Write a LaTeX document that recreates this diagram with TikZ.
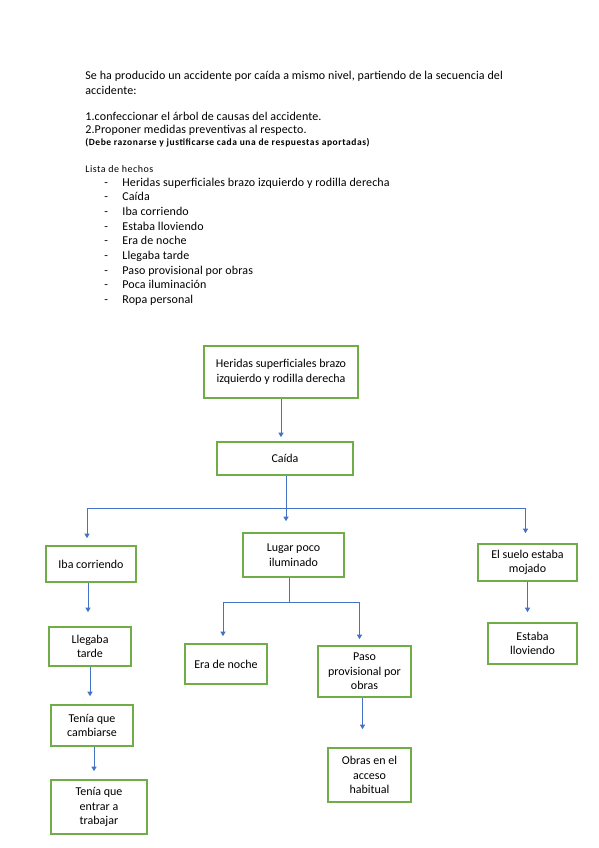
\documentclass[tikz,border=0pt]{standalone}
\usepackage{fontspec}
\setmainfont{Carlito}
\usetikzlibrary{arrows.meta,positioning,calc}
\definecolor{cajaverde}{HTML}{70AD47}
\definecolor{flechaazul}{HTML}{4472C4}
\tikzset{every picture/.style={line width=0.75pt}}

\begin{document}
\begin{tikzpicture}[x=1pt,y=-1pt,
    caja/.style={draw=cajaverde,line width=1.6pt,fill=white,align=center,inner sep=2pt,
        font=\fontsize{12}{14.5}\selectfont},
    flecha/.style={draw=flechaazul,line width=0.9pt,-{Triangle[width=5pt,length=4.5pt]}},
    linea/.style={draw=flechaazul,line width=0.9pt},
    texto/.style={anchor=base west,inner sep=0pt,font=\fontsize{12}{14}\selectfont\addfontfeature{LetterSpace=1}},
    chico/.style={anchor=base west,inner sep=0pt,font=\fontsize{10}{12}\selectfont\addfontfeature{LetterSpace=5}}]
    \useasboundingbox (0,0) rectangle (599,848);

    % Enunciado
    \node[texto] (enun1) at (85,80) {Se ha producido un accidente por caída a mismo nivel, partiendo de la secuencia del};
    \node[texto] (enun2) at (85,94.5) {accidente:};
    \node[texto] (punto1) at (85,120.5) {1.confeccionar el árbol de causas del accidente.};
    \node[texto] (punto2) at (85,133.5) {2.Proponer medidas preventivas al respecto.};
    \node[chico,font=\fontsize{9.5}{11}\bfseries\addfontfeature{LetterSpace=6}] (nota) at (85,146) {(Debe razonarse y justificarse cada una de respuestas aportadas)};

    % Lista de hechos
    \node[chico] (lista) at (85,172.5) {Lista de hechos};
    \node[texto] (hecho1) at (104,186) {\makebox[18pt][l]{-}Heridas superficiales brazo izquierdo y rodilla derecha};
    \node[texto] (hecho2) at (104,200.7) {\makebox[18pt][l]{-}Caída};
    \node[texto] (hecho3) at (104,215.4) {\makebox[18pt][l]{-}Iba corriendo};
    \node[texto] (hecho4) at (104,230.1) {\makebox[18pt][l]{-}Estaba lloviendo};
    \node[texto] (hecho5) at (104,244.8) {\makebox[18pt][l]{-}Era de noche};
    \node[texto] (hecho6) at (104,259.5) {\makebox[18pt][l]{-}Llegaba tarde};
    \node[texto] (hecho7) at (104,274.2) {\makebox[18pt][l]{-}Paso provisional por obras};
    \node[texto] (hecho8) at (104,288.9) {\makebox[18pt][l]{-}Poca iluminación};
    \node[texto] (hecho9) at (104,303.6) {\makebox[18pt][l]{-}Ropa personal};

    % Arbol de causas
    \node[caja,minimum width=154,minimum height=52] (heridas) at (281,372) {Heridas superficiales brazo\\izquierdo y rodilla derecha};
    \node[caja,minimum width=136,minimum height=33] (caida) at (285,458.5) {Caída};
    \node[caja,minimum width=90,minimum height=36] (iba) at (91,564) {Iba corriendo};
    \node[caja,minimum width=101,minimum height=44] (lugar) at (293.5,555) {Lugar poco\\iluminado};
    \node[caja,minimum width=99,minimum height=37] (suelo) at (527.5,562.5) {El suelo estaba\\mojado};
    \node[caja,minimum width=82,minimum height=39] (llegaba) at (90,646.5) {Llegaba\\tarde};
    \node[caja,minimum width=82,minimum height=40] (era) at (226,664) {Era de noche};
    \node[caja,minimum width=93,minimum height=51] (paso) at (364.5,671.5) {Paso\\provisional por\\obras};
    \node[caja,minimum width=89,minimum height=41] (estaba) at (532.5,643.5) {Estaba\\lloviendo};
    \node[caja,minimum width=82,minimum height=41] (cambiarse) at (92,725.5) {Tenía que\\cambiarse};
    \node[caja,minimum width=96,minimum height=54] (entrar) at (99,807) {Tenía que\\entrar a\\trabajar};
    \node[caja,minimum width=83,minimum height=54] (obras) at (369.5,775) {Obras en el\\acceso\\habitual};

    % Conectores
    \draw[flecha,shorten >=4pt] (heridas) -- (heridas.south |- caida.north);
    \coordinate (nudo1) at ($(caida.south)+(1,33)$);
    \draw[linea] (caida.south -| nudo1) -- (nudo1);
    \draw[flecha,shorten >=11pt] (nudo1) -- (nudo1 |- lugar.north);
    \draw[flecha,shorten >=7pt] (nudo1) -| ([xshift=-4pt]iba.north);
    \draw[flecha,shorten >=10pt] (nudo1) -| ([xshift=-2pt]suelo.north);
    \draw[flecha,shorten >=14pt] ([xshift=-3pt]iba.south) -- ([xshift=-3pt]iba.south |- llegaba.north);
    \draw[flecha,shorten >=8pt] (llegaba) -- (llegaba.south |- cambiarse.north);
    \draw[flecha,shorten >=8pt] ([xshift=2pt]cambiarse.south) -- ([xshift=2pt]cambiarse.south |- entrar.north);
    \coordinate (nudo2) at ($(lugar.south)+(-4.5,25)$);
    \draw[linea] (nudo2 |- lugar.south) -- (nudo2);
    \draw[flecha,shorten >=7pt] (nudo2) -| ([xshift=-3pt]era.north);
    \draw[flecha,shorten >=6pt] (nudo2) -| ([xshift=-5pt]paso.north);
    \draw[flecha,shorten >=18pt] ([xshift=-2pt]paso.south) -- ([xshift=-2pt]paso.south |- obras.north);
    \draw[flecha,shorten >=10pt] (suelo) -- (suelo.south |- estaba.north);
\end{tikzpicture}
\end{document}
